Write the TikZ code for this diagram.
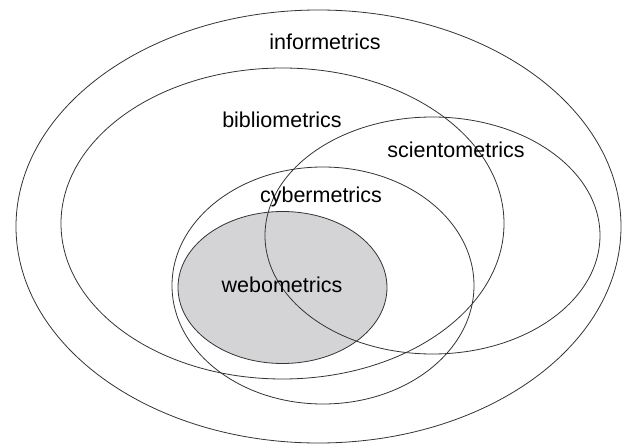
\documentclass[tikz,border=0pt]{standalone}
\usepackage{fontspec}
\setmainfont{Liberation Sans}
\definecolor{webgray}{RGB}{212,212,214}
\begin{document}
\begin{tikzpicture}[x = 1pt, y = -1pt,
                    mset/.style = {color = black!80,
                                   line width = 0.8pt},
                    mlabel/.style = {anchor = base,
                                     inner sep = 0pt,
                                     font = \fontsize{21.5}{24}\selectfont}]
		\useasboundingbox (0,0) rectangle (622,447);
		\fill[webgray] (282.5,287.5) ellipse [x radius = 104.5, y radius = 76];
		\draw[mset] (318.5,226.5) ellipse [x radius = 302.5, y radius = 216.5];
		\draw[mset] (282.5,223.5) ellipse [x radius = 221.5, y radius = 155.5];
		\draw[mset] (432.5,235.5) ellipse [x radius = 167.5, y radius = 118.5];
		\draw[mset] (323,285.5) ellipse [x radius = 151, y radius = 118.5];
		\draw[mset] (282.5,287.5) ellipse [x radius = 104.5, y radius = 76];
		\node[mlabel] (info) at (325,49) {informetrics};
		\node[mlabel] (biblio) at (282,127) {bibliometrics};
		\node[mlabel] (sciento) at (456,157) {scientometrics};
		\node[mlabel] (cyber) at (321,202) {cybermetrics};
		\node[mlabel] (webo) at (282,292) {webometrics};
	\end{tikzpicture}
\end{document}
